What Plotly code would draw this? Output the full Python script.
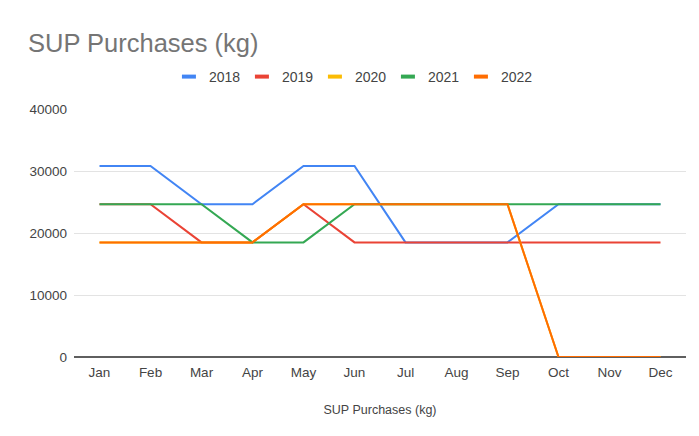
import plotly.graph_objects as go

months = ["Jan", "Feb", "Mar", "Apr", "May", "Jun", "Jul", "Aug", "Sep", "Oct", "Nov", "Dec"]
years = ["2018", "2019", "2020", "2021", "2022"]
s2018 = [30800, 30800, 24640, 24640, 30800, 30800, 18480, 18480, 18480, 24640, 24640, 24640]
s2019 = [24640, 24640, 18480, 18480, 24640, 18480, 18480, 18480, 18480, 18480, 18480, 18480]
s2020 = [18480, 18480, 18480, 18480, 24640, 24640, 24640, 24640, 24640, 0, 0, 0]
s2021 = [24640, 24640, 24640, 18480, 18480, 24640, 24640, 24640, 24640, 24640, 24640, 24640]
s2022 = [18480, 18480, 18480, 18480, 24640, 24640, 24640, 24640, 24640, 0, 0, 0]
series = [s2018, s2019, s2020, s2021, s2022]
colors = ["#4285F4", "#EA4335", "#FBBC04", "#34A853", "#FF6D01"]
yticks = [0, 10000, 20000, 30000, 40000]

fig = go.Figure()
for name, vals, c in zip(years, series, colors):
    fig.add_trace(go.Scatter(x=months, y=vals, name=name, mode="lines",
                             line=dict(color=c, width=2), showlegend=False,
                             legendgroup=name))
# legend entries with short bar symbols
for name, c in zip(years, colors):
    fig.add_trace(go.Scatter(x=[None], y=[None], name=name, mode="markers",
                             marker=dict(symbol="line-ew", size=10, color=c,
                                         line=dict(width=4, color=c)),
                             legendgroup=name, showlegend=True))

font = "Liberation Sans, Arial, sans-serif"
fig.update_layout(
    width=691, height=428,
    margin=dict(l=66, r=13, t=101, b=79),
    paper_bgcolor="white", plot_bgcolor="white",
    font=dict(family=font, size=13.5, color="#444444"),
    title=dict(text="SUP Purchases (kg)", x=20 / 691, xref="container", xanchor="left",
               y=1 - 35 / 428, yref="container", yanchor="middle",
               font=dict(size=25.5, color="#757575", family=font)),
    legend=dict(orientation="h", x=(161 - 66) / 612.5, xanchor="left", y=1 + 32 / 248,
                yanchor="middle", font=dict(size=14, color="#444444"),
                entrywidth=28, itemwidth=30),
    xaxis=dict(showgrid=False, showline=False, ticks="", range=[-0.5, 11.5],
               title=dict(text="SUP Purchases (kg)", standoff=26,
                          font=dict(size=12.5, color="#444444")),
               tickfont=dict(size=13.5, color="#444444"), ticklabelstandoff=5),
    yaxis=dict(range=[0, 40000], tickvals=yticks, ticktext=[str(v) for v in yticks],
               showgrid=True, gridcolor="#e3e3e3", gridwidth=1,
               zeroline=True, zerolinecolor="#5f5f5f", zerolinewidth=1.5,
               showline=False, ticks="", ticklabelstandoff=6,
               tickfont=dict(size=13.5, color="#444444")),
    showlegend=True,
)

fig.write_html("out.html")
